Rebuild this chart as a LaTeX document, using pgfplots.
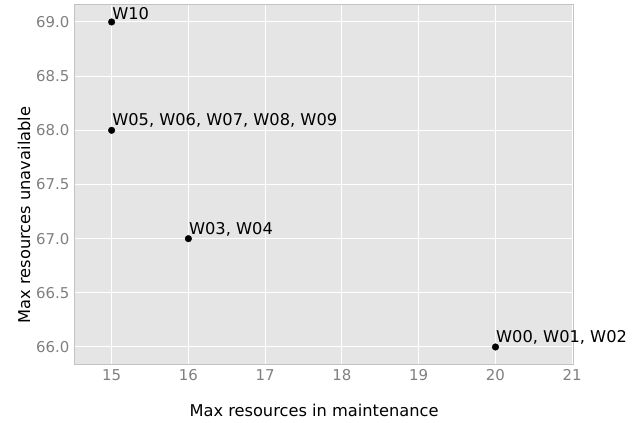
\documentclass[border=0pt]{standalone}
\usepackage{fontspec}
\setmainfont{DejaVu Sans}
\usepackage{pgfplots}
\pgfplotsset{compat=1.18}
\definecolor{panel}{HTML}{E5E5E5}
\definecolor{ticklab}{HTML}{7F7F7F}
\begin{document}
\begin{tikzpicture}
\begin{axis}[
  at={(0,0)}, anchor=south west,
  scale only axis, width=499bp, height=360bp,
  xmin=14.51, xmax=21.01, ymin=65.843, ymax=69.166,
  axis background/.style={fill=panel},
  axis line style={draw=panel!85!black, line width=0.4bp},
  xtick={15,16,...,21}, ytick={66,66.5,...,69},
  grid=major, major grid style={white, line width=1bp},
  tick style={draw=none},
  /pgf/number format/assume math mode=true,
  /pgf/number format/.cd, fixed, fixed zerofill, precision=1, /pgfplots/.cd,
  xticklabel={\pgfmathprintnumber[fixed, precision=0]{\tick}},
  ticklabel style={font=\fontsize{15}{18}\selectfont, text=ticklab},
  xticklabel style={yshift=-2bp},
  yticklabel style={xshift=-1bp},
  xlabel={Max resources in maintenance},
  ylabel={Max resources unavailable},
  label style={font=\fontsize{16.3}{19}\selectfont},
  xlabel style={at={(axis description cs:0.481,-0.128)}, anchor=center},
  ylabel style={at={(axis description cs:-0.1,0.414)}, anchor=center, rotate=0},
  clip=false,
]
\addplot[only marks, mark=*, mark size=3.3bp, black,
  point meta=explicit symbolic,
  nodes near coords,
  nodes near coords style={anchor=south west, font=\fontsize{16.3}{19}\selectfont, inner sep=0.5bp, xshift=0bp, yshift=2bp}]
  coordinates {
  (15,69) [W10]
  (15,68) [{W05, W06, W07, W08, W09}]
  (16,67) [{W03, W04}]
  (20,66) [{W00, W01, W02}]
};
\end{axis}
\path[use as bounding box] (-74bp,-59bp) rectangle (566bp,364bp);
\end{tikzpicture}
\end{document}
